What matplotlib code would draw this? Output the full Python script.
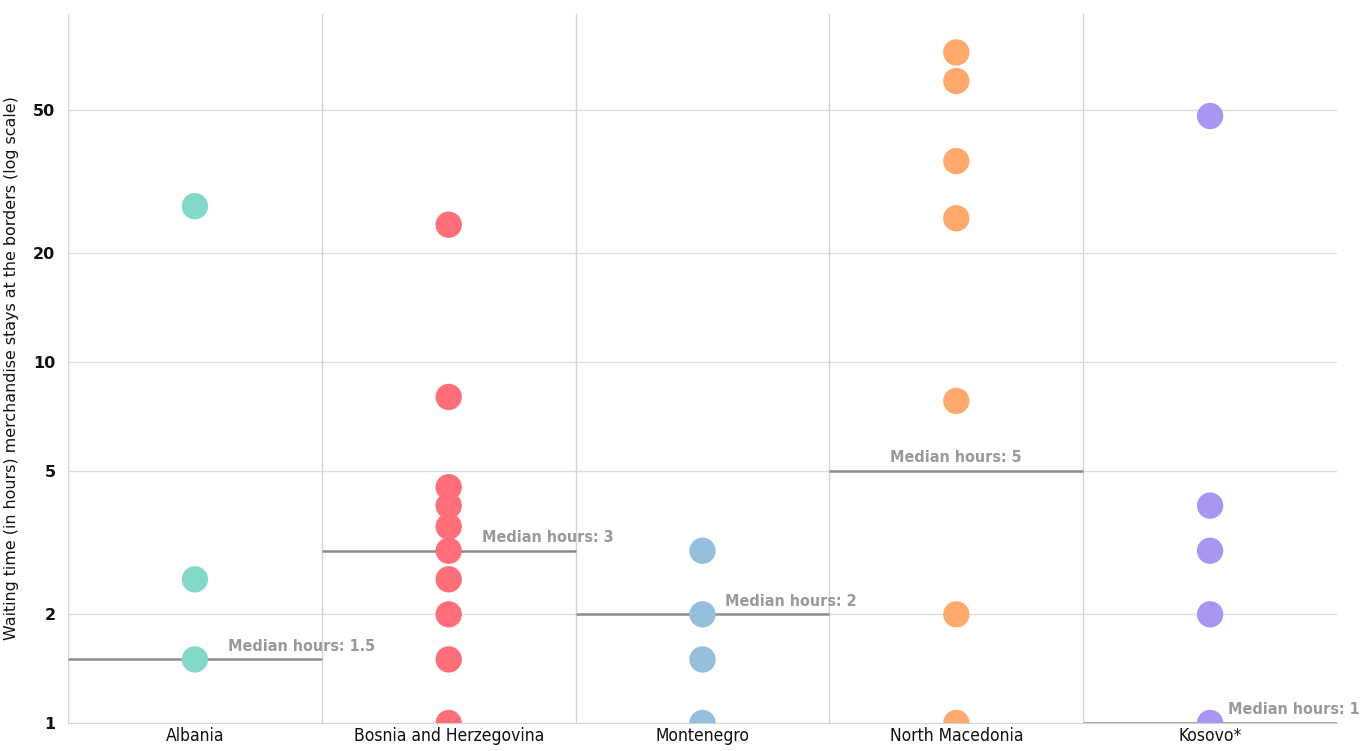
import matplotlib
matplotlib.use('Agg')
import matplotlib.pyplot as plt
from matplotlib.ticker import FixedLocator, NullLocator

# Waiting time at the borders, one column per country
countries = ['Albania', 'Bosnia and Herzegovina', 'Montenegro', 'North Macedonia', 'Kosovo*']
albania = [27, 2.5, 1.5]
bosnia = [24, 8, 4.5, 4, 3.5, 3, 2.5, 2, 1.5, 1]
montenegro = [3, 2, 1.5, 1]
north_macedonia = [72, 60, 36, 25, 7.8, 2, 1]
kosovo = [48, 4, 3, 2, 1]
medians = [1.5, 3, 2, 5, 1]
median_labels = ['Median hours: 1.5', 'Median hours: 3', 'Median hours: 2',
                 'Median hours: 5', 'Median hours: 1']
y_ticks = [1, 2, 5, 10, 20, 50]

series = [albania, bosnia, montenegro, north_macedonia, kosovo]
colors = ['#83D9C7', '#FF6E79', '#95C0DB', '#FFAA6C', '#A996F2']
label_dx = [0.13, 0.13, 0.09, 0.0, 0.07]
label_ha = ['left', 'left', 'left', 'center', 'left']

fig = plt.figure(figsize=(13.69, 7.51), dpi=100)
ax = fig.add_axes([68 / 1369, 28 / 751, (1337 - 68) / 1369, (723 - 14) / 751])

ax.set_yscale('log')
ax.set_ylim(1, 92)
ax.set_xlim(-0.5, 4.5)

# grid
for v in y_ticks[1:]:
    ax.axhline(v, color='#dddddd', lw=1, zorder=0)
for i in range(len(countries)):
    ax.axvline(i - 0.5, color='#d4d4d4', lw=1, zorder=0)

for i, vals in enumerate(series):
    ax.scatter([i] * len(vals), vals, s=360, color=colors[i], edgecolors='none', zorder=3)
    ax.plot([i - 0.5, i + 0.5], [medians[i], medians[i]], color='#8c8c8c', lw=1.8, zorder=2,
            solid_capstyle='butt')
    ax.annotate(median_labels[i], xy=(i + label_dx[i], medians[i]), xytext=(0, 4),
                textcoords='offset points', ha=label_ha[i], va='bottom',
                fontsize=11.5, fontweight='bold', fontstretch='condensed', color='#999999',
                family='DejaVu Sans', zorder=4, annotation_clip=False)

for s in ['top', 'right', 'left']:
    ax.spines[s].set_visible(False)
ax.spines['bottom'].set_color('#d4d4d4')

ax.yaxis.set_major_locator(FixedLocator(y_ticks))
ax.yaxis.set_minor_locator(NullLocator())
ax.set_yticklabels([str(v) for v in y_ticks], fontsize=11.5, fontweight='bold',
                   family='DejaVu Sans', color='#111111')
ax.tick_params(axis='y', length=0, pad=9)
ax.set_xticks(range(len(countries)))
ax.set_xticklabels(countries, fontsize=12.5, family='DejaVu Sans', fontstretch='condensed',
                   color='#111111')
ax.tick_params(axis='x', length=0, pad=3)

ax.set_ylabel('Waiting time (in hours) merchandise stays at the borders (log scale)',
              fontsize=11.4, family='DejaVu Sans', color='#111111')
ax.yaxis.set_label_coords(-0.039, 0.5)

plt.savefig('out.png', dpi=100)
